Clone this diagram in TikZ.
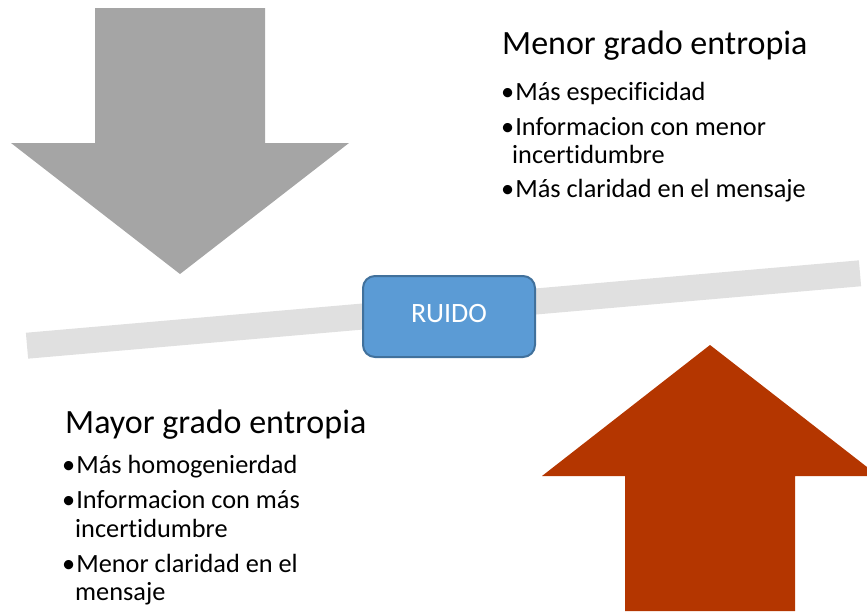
\documentclass[tikz,border=0pt]{standalone}
\usepackage{fontspec}
\setmainfont{Carlito}[Ligatures={NoCommon,NoContextual},RawFeature=-liga]
\definecolor{arrowgray}{RGB}{165,165,165}
\definecolor{arrowred}{RGB}{180,54,0}
\definecolor{barcol}{RGB}{224,224,224}
\definecolor{boxfill}{RGB}{91,155,213}
\definecolor{boxline}{RGB}{65,113,156}
\newcommand{\bul}{•\hspace{1pt}}
\newcommand{\nl}{\kern0pt }
\tikzset{
  titletext/.style={anchor=base west, inner sep=0pt, font=\fontsize{34}{40}\selectfont},
  bullettext/.style={anchor=base west, inner sep=0pt, font=\fontsize{26.3}{32}\selectfont},
  noisebox/.style={draw=boxline, line width=2pt, fill=boxfill, rounded corners=12pt,
    minimum width=172pt, minimum height=81pt, text=white, inner sep=0pt,
    font=\fontsize{28}{32}\selectfont}
}
\begin{document}
\begin{tikzpicture}[x=1pt,y=-1pt]
\useasboundingbox (0,0) rectangle (867,611);
% slanted bar
\draw[barcol, line width=26pt] (27,345.7) -- (860,273.3);
% gray down arrow
\fill[arrowgray] (95,8) -- (265,8) -- (265,143) -- (349,143) -- (180,274) -- (11,143) -- (95,143) -- cycle;
% red up arrow
\fill[arrowred] (625,611) -- (625,476) -- (542,476) -- (710,345) -- (867,467) -- (867,476) -- (795,476) -- (795,611) -- cycle;
% noise box
\node[noisebox] (ruido) at (449,316.5) {\raisebox{7pt}{RUIDO}};
% top right text
\node[titletext] (t1) at (502,54) {Menor grado entropia};
\node[bullettext] (a1) at (501,100) {\bul Más especif\nl icidad};
\node[bullettext] (a2) at (501,135) {\bul Informacion con menor};
\node[bullettext] (a3) at (512,163) {incert\nl idumbre};
\node[bullettext] (a4) at (501,197) {\bul Más claridad en el mensaje};
% bottom left text
\node[titletext] (t2) at (65,433) {Mayor grado entropia};
\node[bullettext] (b1) at (62,473) {\bul Más homogenierdad};
\node[bullettext] (b2) at (62,508) {\bul Informacion con más};
\node[bullettext] (b3) at (75,537) {incert\nl idumbre};
\node[bullettext] (b4) at (62,572) {\bul Menor claridad en el};
\node[bullettext] (b5) at (75,600) {mensaje};
\end{tikzpicture}
\end{document}
